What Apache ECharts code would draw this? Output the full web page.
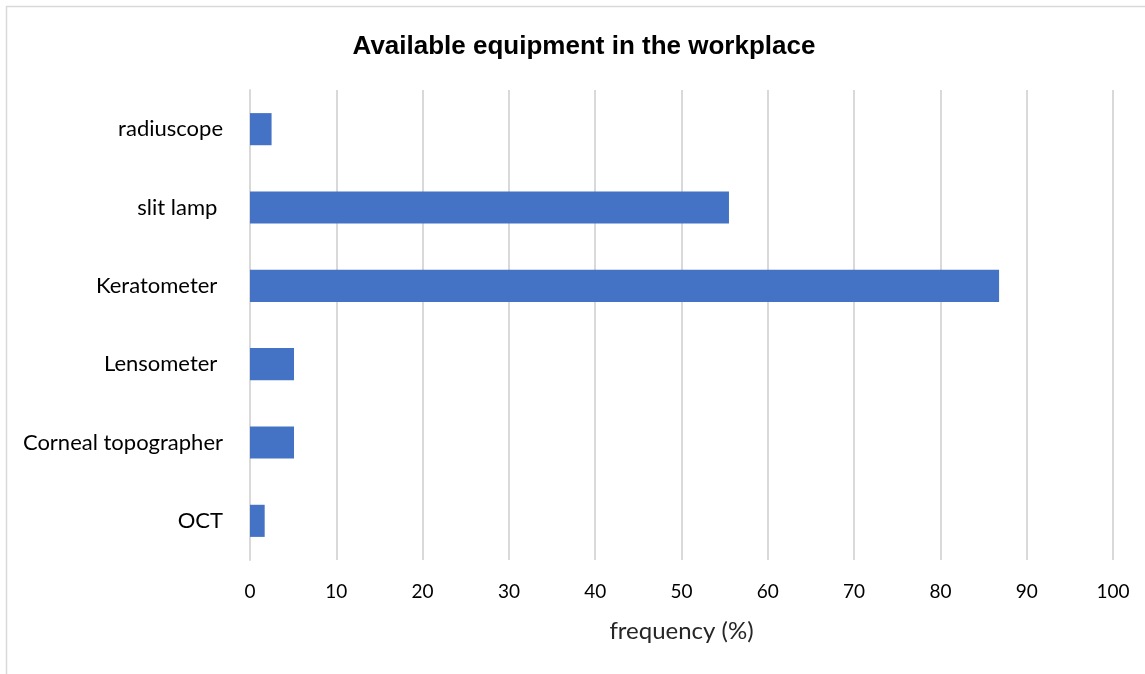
<!DOCTYPE html>
<html><head><meta charset="utf-8">
<script src="https://cdn.jsdelivr.net/npm/echarts@6/dist/echarts.min.js"></script>
<style>html,body{margin:0;padding:0;background:#fff}#c{width:1145px;height:674px}</style>
</head><body><div id="c"></div>
<script>
const categories = ['OCT', 'Corneal topographer', 'Lensometer ', 'Keratometer ', 'slit lamp ', 'radiuscope'];
const values = [1.7, 5.1, 5.1, 86.8, 55.5, 2.5];
const title = 'Available equipment in the workplace';
const xAxisName = 'frequency (%)';

const chart = echarts.init(document.getElementById('c'));
chart.setOption({
  animation: false,
  backgroundColor: '#fff',
  graphic: [{type: 'rect', shape: {x: 6.5, y: 6.5, width: 1200, height: 800}, style: {fill: 'none', stroke: '#d9d9d9', lineWidth: 1.5}, silent: true}],
  title: {text: title, left: 579, top: 29, textAlign: 'center',
    textStyle: {fontFamily: 'Liberation Sans, Arial', fontWeight: 'bold', fontSize: 26, color: '#000'}},
  grid: {left: 250, right: 32, top: 90, bottom: 114, containLabel: false},
  xAxis: {type: 'value', min: 0, max: 100, interval: 10,
    name: xAxisName, nameLocation: 'middle', nameGap: 59,
    nameTextStyle: {fontFamily: 'Lato, Carlito, Calibri', fontSize: 24, color: '#262626'},
    axisLine: {show: false}, axisTick: {show: false},
    axisLabel: {fontFamily: 'Lato, Carlito, Calibri', fontSize: 19, color: '#000', margin: 22},
    splitLine: {lineStyle: {color: '#d9d9d9', width: 2}}},
  yAxis: {type: 'category', data: categories,
    axisLine: {show: true, lineStyle: {color: '#d9d9d9', width: 2}}, axisTick: {show: false},
    axisLabel: {fontFamily: 'Lato, Carlito, Calibri', fontSize: 22, color: '#000', margin: 27}},
  series: [{type: 'bar', data: values, barWidth: '41%', itemStyle: {color: '#4472c4'}}]
});
</script></body></html>
